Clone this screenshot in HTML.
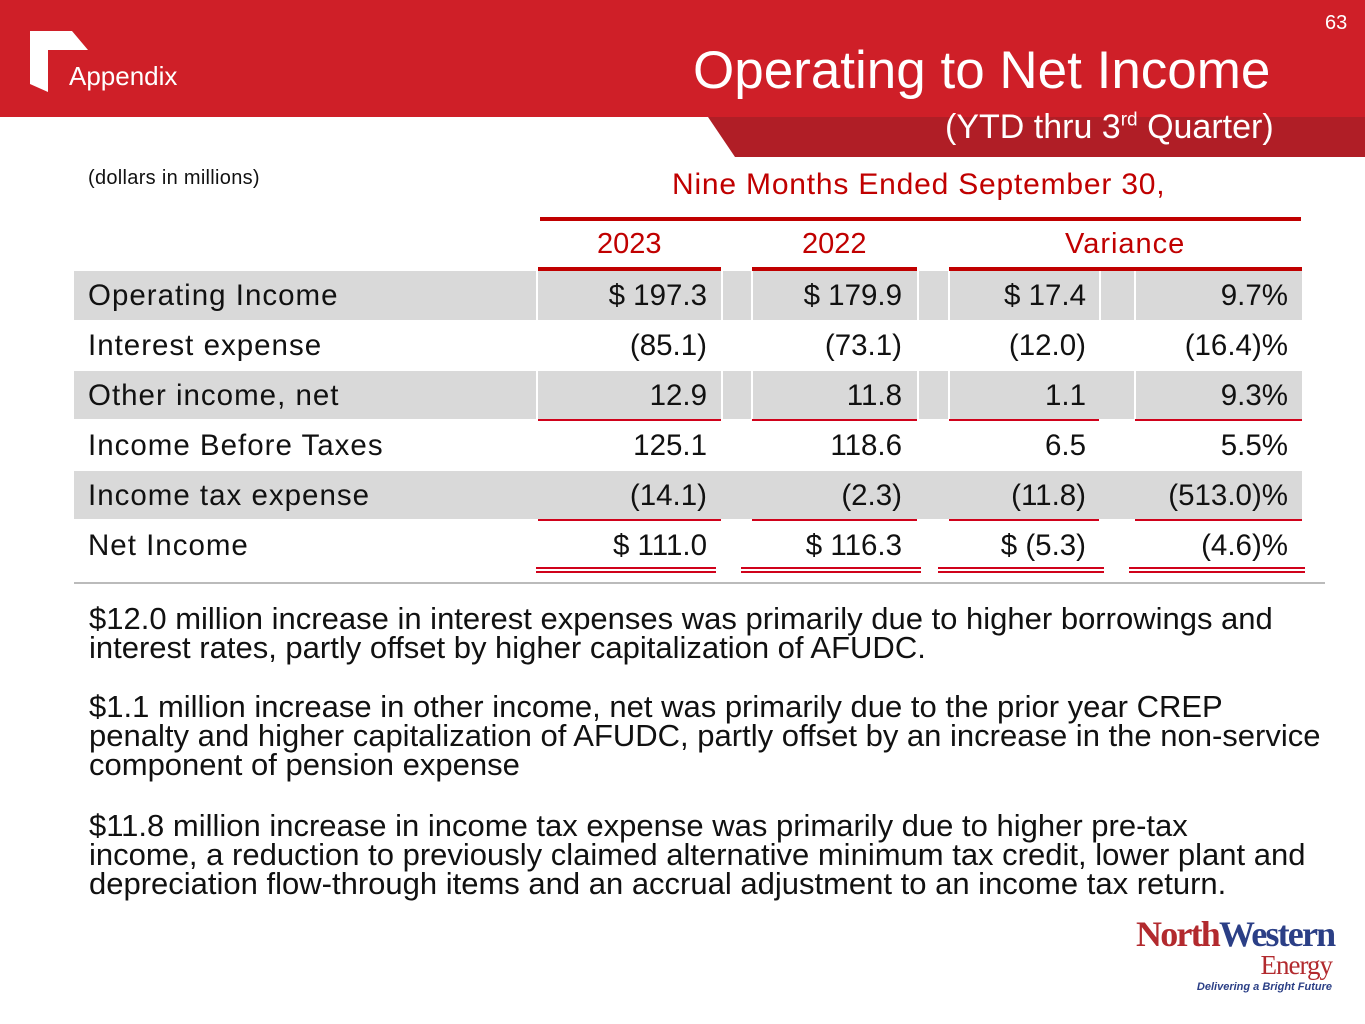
<!DOCTYPE html>
<html><head><meta charset="utf-8"><style>
body{margin:0;width:1365px;height:1024px;position:relative;background:#fff;font-family:"Liberation Sans",Arial,sans-serif;overflow:hidden}
.a{position:absolute}
.num{position:absolute;font-size:29.5px;color:#111;text-align:right;line-height:50px}
.lbl{position:absolute;left:88px;font-size:29.5px;letter-spacing:1px;color:#111;line-height:50px}
.p{position:absolute;left:89px;font-size:31px;line-height:29px;color:#111;white-space:nowrap}
</style></head><body>
<div class="a" style="left:0;top:0;width:1365px;height:117px;background:#cf1f28"></div>
<svg class="a" style="left:0;top:0" width="1365" height="160">
<polygon points="708,117 1365,117 1365,157 735,157" fill="#b01e26"/>
<polygon points="30,31 72,31 88,50 48,50 48,92 30,84" fill="#fff"/>
</svg>
<div class="a" style="left:69px;top:61px;font-size:26px;color:#fff">Appendix</div>
<div class="a" style="left:1325px;top:12px;font-size:20px;color:#fff">63</div>
<div class="a" style="left:693px;top:40px;font-size:53px;color:#fff;line-height:62px">Operating to Net Income</div>
<div class="a" style="left:945px;top:108px;font-size:34px;color:#fff">(YTD thru 3<sup style="font-size:19px">rd</sup> Quarter)</div>
<div class="a" style="left:88px;top:167px;font-size:20px;letter-spacing:0.3px;color:#111">(dollars in millions)</div>
<div class="a" style="left:672px;top:168px;font-size:30px;letter-spacing:0.8px;color:#c00000">Nine Months Ended September 30,</div>
<div class="a" style="left:540px;top:217px;width:761px;height:4px;background:#c00000"></div>
<div class="a" style="left:597px;top:228px;font-size:29px;color:#c00000">2023</div>
<div class="a" style="left:802px;top:228px;font-size:29px;color:#c00000">2022</div>
<div class="a" style="left:1065px;top:228px;font-size:29px;letter-spacing:1px;color:#c00000">Variance</div>
<div class="a" style="left:538px;top:267px;width:183px;height:4px;background:#c00000"></div>
<div class="a" style="left:752px;top:267px;width:165px;height:4px;background:#c00000"></div>
<div class="a" style="left:949px;top:267px;width:353px;height:4px;background:#c00000"></div>
<div class="a" style="left:74px;top:271px;width:1228px;height:49px;background:#d9d9d9"></div>
<div class="a" style="left:74px;top:371px;width:1228px;height:48px;background:#d9d9d9"></div>
<div class="a" style="left:74px;top:471px;width:1228px;height:48px;background:#d9d9d9"></div>
<div class="a" style="left:536px;top:271px;width:2px;height:49px;background:#fff"></div>
<div class="a" style="left:721px;top:271px;width:2px;height:49px;background:#fff"></div>
<div class="a" style="left:751px;top:271px;width:2px;height:49px;background:#fff"></div>
<div class="a" style="left:917px;top:271px;width:2px;height:49px;background:#fff"></div>
<div class="a" style="left:948px;top:271px;width:2px;height:49px;background:#fff"></div>
<div class="a" style="left:1099px;top:271px;width:2px;height:49px;background:#fff"></div>
<div class="a" style="left:1134px;top:271px;width:2px;height:49px;background:#fff"></div>
<div class="a" style="left:536px;top:371px;width:2px;height:48px;background:#fff"></div>
<div class="a" style="left:721px;top:371px;width:2px;height:48px;background:#fff"></div>
<div class="a" style="left:751px;top:371px;width:2px;height:48px;background:#fff"></div>
<div class="a" style="left:917px;top:371px;width:2px;height:48px;background:#fff"></div>
<div class="a" style="left:948px;top:371px;width:2px;height:48px;background:#fff"></div>
<div class="a" style="left:1134px;top:371px;width:2px;height:48px;background:#fff"></div>
<div id="rules"></div>
<div class="a" style="left:74px;top:582px;width:1251px;height:2px;background:#bbb"></div>
<div id="tbl"></div>
<div class="p" style="top:604px">$12.0 million increase in interest expenses was primarily due to higher borrowings and<br>interest rates, partly offset by higher capitalization of AFUDC.</div>
<div class="p" style="top:692px">$1.1 million increase in other income, net was primarily due to the prior year CREP<br>penalty and higher capitalization of AFUDC, partly offset by an increase in the non-service<br>component of pension expense</div>
<div class="p" style="top:811px">$11.8 million increase in income tax expense was primarily due to higher pre-tax<br>income, a reduction to previously claimed alternative minimum tax credit, lower plant and<br>depreciation flow-through items and an accrual adjustment to an income tax return.</div>
<div class="a" style="left:1136px;top:916px;width:200px;height:80px">
<div style="font-family:'Liberation Serif',serif;font-size:36px;letter-spacing:-1.8px;line-height:36px;font-weight:bold"><span style="color:#b22a2e">North</span><span style="color:#2b3f86">Western</span></div>
<div style="font-family:'Liberation Serif',serif;font-size:27px;color:#b22a2e;text-align:right;padding-right:4px;line-height:26px;letter-spacing:-1px">Energy</div>
<div style="font-size:11px;font-weight:bold;font-style:italic;color:#2b3f86;text-align:right;padding-right:4px;margin-top:3px">Delivering a Bright Future</div>
</div>
<script>
const rowLabels=["Operating Income","Interest expense","Other income, net","Income Before Taxes","Income tax expense","Net Income"];
const col2023=["$ 197.3","(85.1)","12.9","125.1","(14.1)","$ 111.0"];
const col2022=["$ 179.9","(73.1)","11.8","118.6","(2.3)","$ 116.3"];
const colVar=["$ 17.4","(12.0)","1.1","6.5","(11.8)","$ (5.3)"];
const colPct=["9.7%","(16.4)%","9.3%","5.5%","(513.0)%","(4.6)%"];
const tbl=document.getElementById('tbl');
const rights=[707,902,1086,1288];
const cols=[col2023,col2022,colVar,colPct];
const colNames=['value-2023','value-2022','variance','variance-pct'];
rowLabels.forEach((l,i)=>{
 const top=271+i*50;
 const d=document.createElement('div');d.className='lbl';d.style.top=top+'px';d.textContent=l;
 
 
 tbl.appendChild(d);
 cols.forEach((c,j)=>{
  const n=document.createElement('div');n.className='num';n.style.top=top+'px';n.style.right=(1365-rights[j])+'px';n.textContent=c[i];
  
  
  tbl.appendChild(n);
 });
});
const rules=document.getElementById('rules');
const spans=[[538,721],[752,917],[949,1099],[1135,1302]];
[419,519].forEach(y=>spans.forEach(s=>{
 const r=document.createElement('div');r.className='a';
 r.style.cssText=`left:${s[0]}px;top:${y}px;width:${s[1]-s[0]}px;height:2px;background:#d0021b`;
 
 
 rules.appendChild(r);
}));
const dspans=[[536,716],[741,921],[938,1104],[1129,1305]];
[567,571].forEach(y=>dspans.forEach(s=>{
 const r=document.createElement('div');r.className='a';
 r.style.cssText=`left:${s[0]}px;top:${y}px;width:${s[1]-s[0]}px;height:2px;background:#d0021b`;
 
 
 rules.appendChild(r);
}));
</script>
</body></html>
